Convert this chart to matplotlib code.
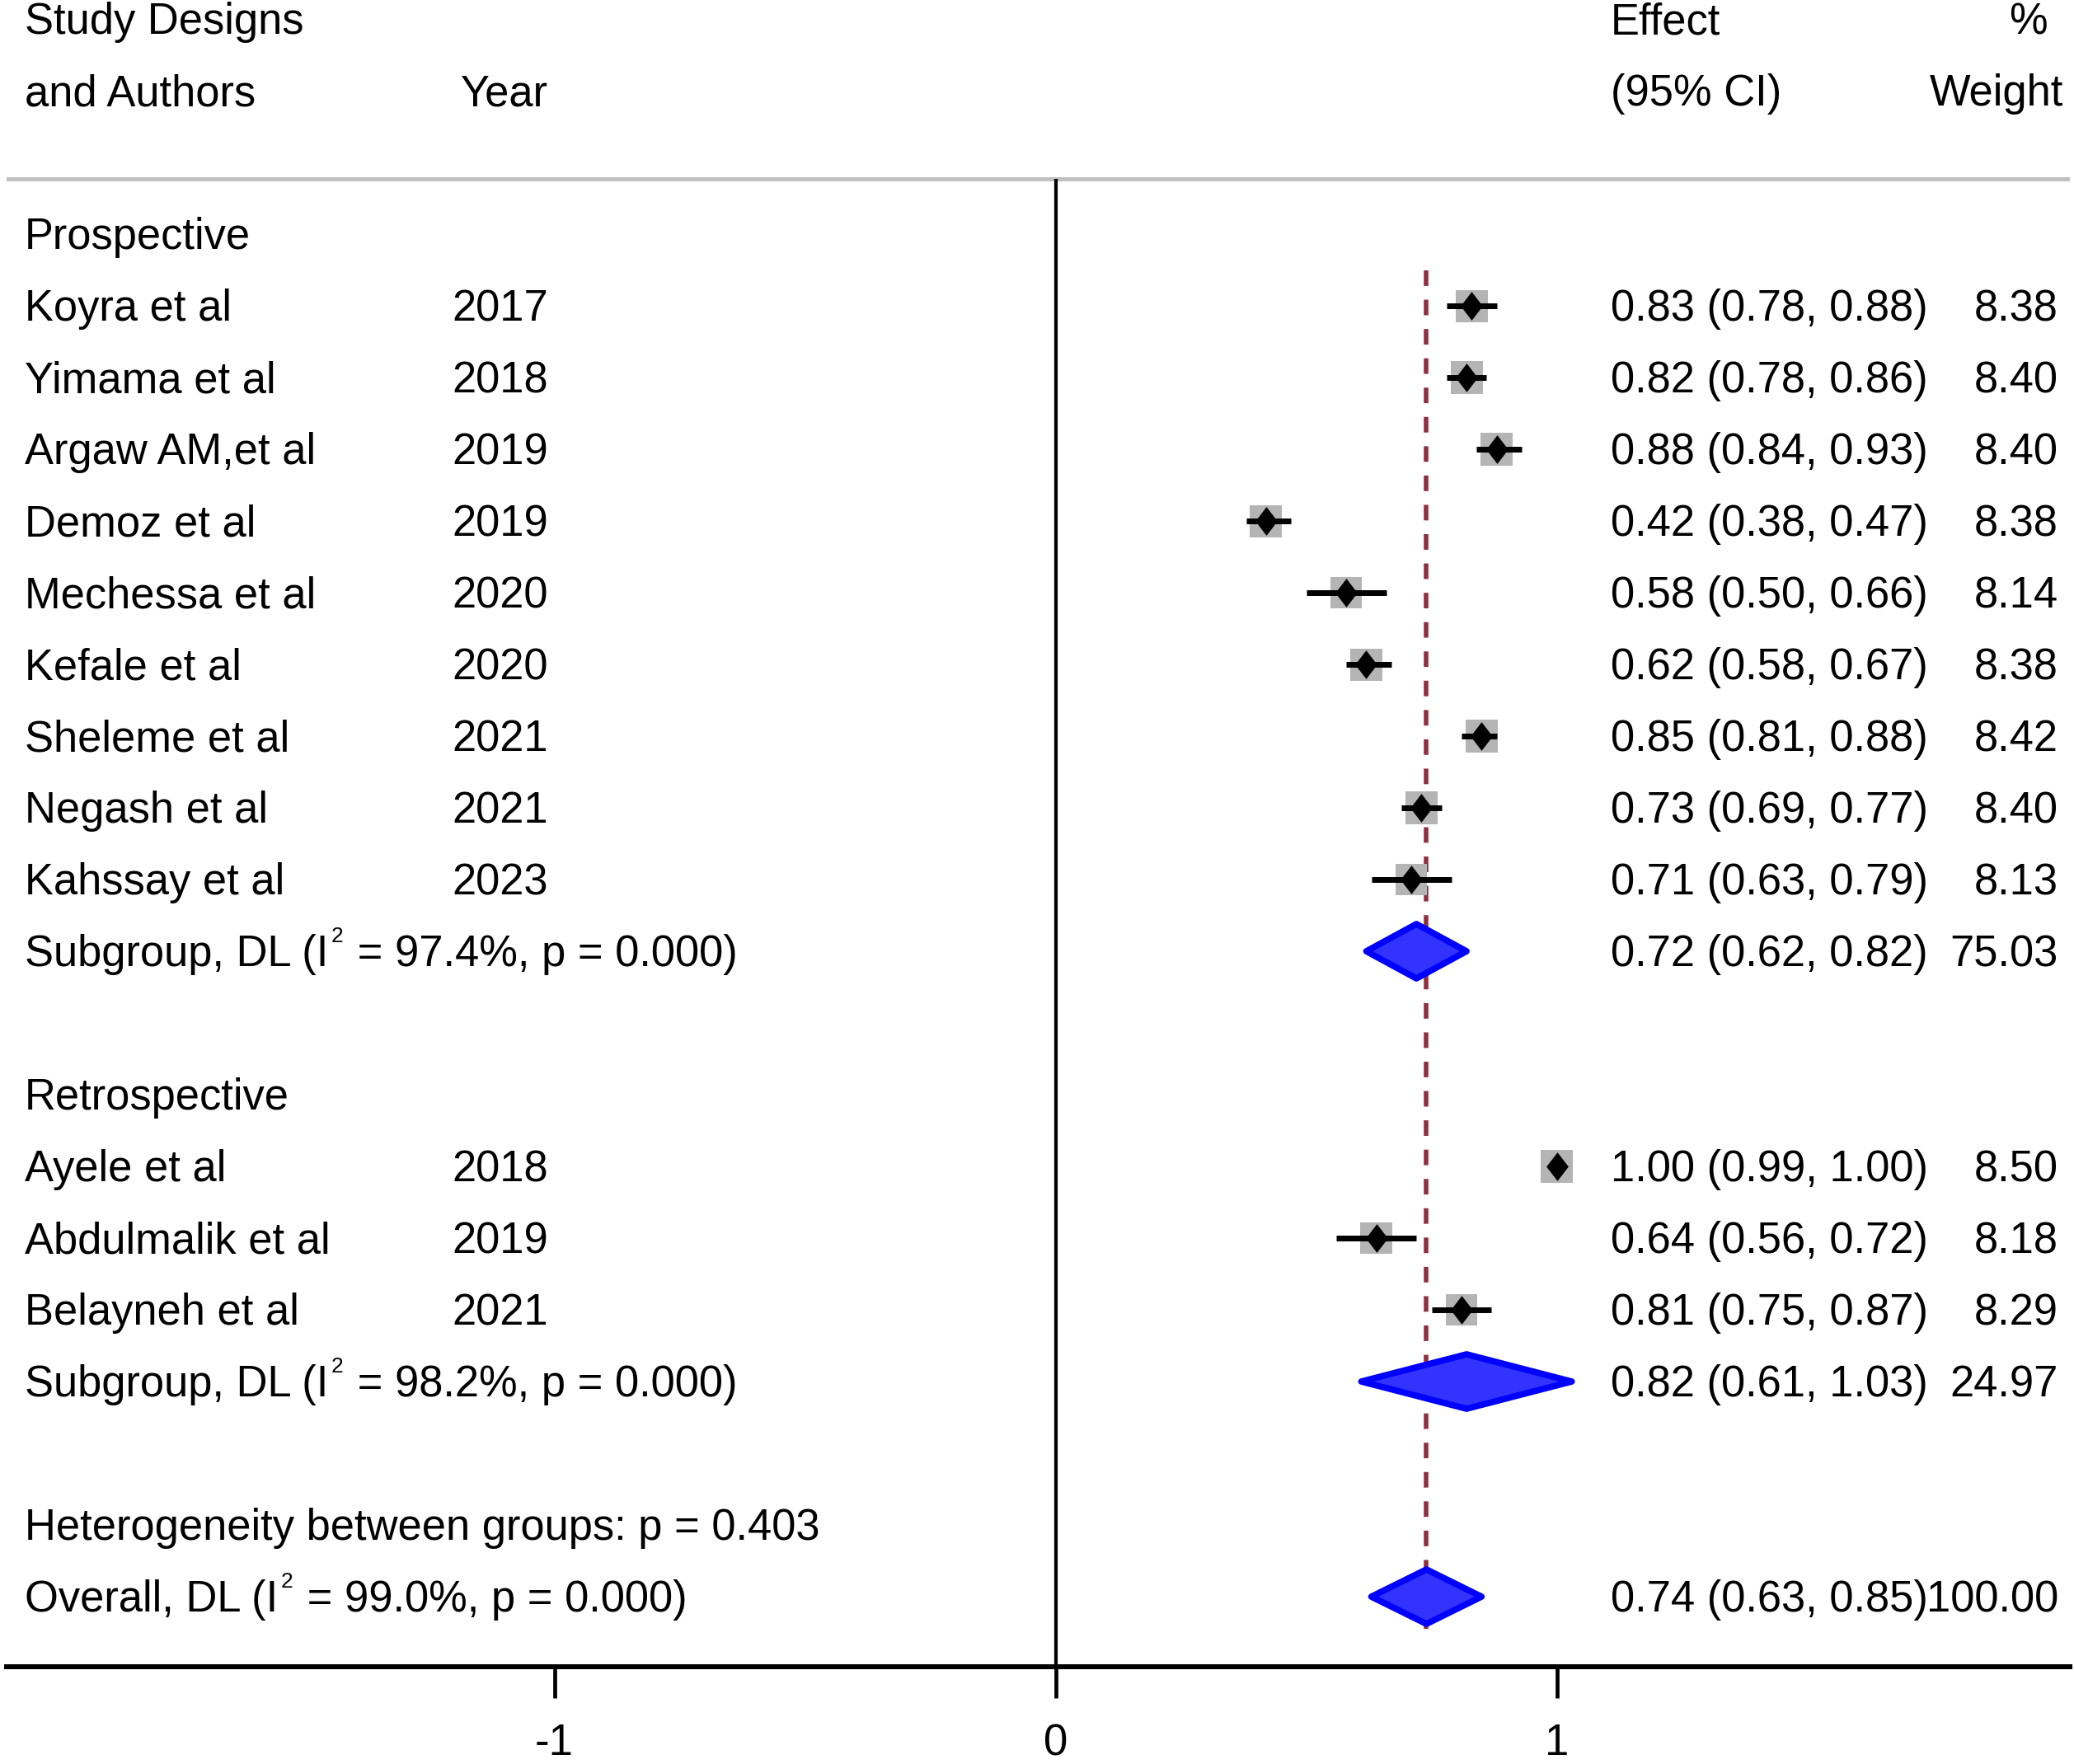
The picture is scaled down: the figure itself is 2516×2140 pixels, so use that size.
import numpy as np
import matplotlib
matplotlib.use("Agg")
import matplotlib.pyplot as plt
from matplotlib.path import Path
from matplotlib.patches import Polygon
import matplotlib.transforms as mtransforms

plt.rcParams['font.family'] = ['Liberation Sans', 'DejaVu Sans']

# prospective studies
pro_names = ["Koyra et al", "Yimama et al", "Argaw AM,et al", "Demoz et al", "Mechessa et al",
             "Kefale et al", "Sheleme et al", "Negash et al", "Kahssay et al"]
pro_years = [2017, 2018, 2019, 2019, 2020, 2020, 2021, 2021, 2023]
pro_es = [0.83, 0.82, 0.88, 0.42, 0.58, 0.62, 0.85, 0.73, 0.71]
pro_lo = [0.78, 0.78, 0.84, 0.38, 0.50, 0.58, 0.81, 0.69, 0.63]
pro_hi = [0.88, 0.86, 0.93, 0.47, 0.66, 0.67, 0.88, 0.77, 0.79]
pro_w = [8.38, 8.40, 8.40, 8.38, 8.14, 8.38, 8.42, 8.40, 8.13]

# retrospective studies
ret_names = ["Ayele et al", "Abdulmalik et al", "Belayneh et al"]
ret_years = [2018, 2019, 2021]
ret_es = [1.00, 0.64, 0.81]
ret_lo = [0.99, 0.56, 0.75]
ret_hi = [1.00, 0.72, 0.87]
ret_w = [8.50, 8.18, 8.29]

# pooled estimates: prospective, retrospective, overall
pool_es = [0.72, 0.82, 0.74]
pool_lo = [0.62, 0.61, 0.63]
pool_hi = [0.82, 1.03, 0.85]
pool_w = [75.03, 24.97, 100.00]
pool_i2 = [97.4, 98.2, 99.0]
pool_p = [0.000, 0.000, 0.000]
het_between_p = 0.403

xticks = [-1, 0, 1]

# row layout
pro_rows = list(range(1, 10))
ret_rows = list(range(13, 16))
pool_rows = [10, 16, 19]

FS = 37.8
W, H = 2516, 2140
fig = plt.figure(figsize=(W / 100, H / 100), dpi=100)
row0_px, step_px = 284.0, 87.0
top_r, bot_r = -row0_px / step_px, 19.98
ax_h = (bot_r - top_r) * step_px / H
x0_px, unit_px = 1280.5, 608.0
xl, xr = (8 - x0_px) / unit_px, (2511 - x0_px) / unit_px
ax = fig.add_axes([8 / W, 1 - ax_h, (2511 - 8) / W, ax_h])
ax.set_xlim(xl, xr)
ax.set_ylim(bot_r, top_r)
for s in ['top', 'left', 'right']:
    ax.spines[s].set_visible(False)
ax.spines['bottom'].set_linewidth(4.3)
ax.set_yticks([])
ax.set_xticks(xticks)
ax.set_xticklabels([str(t) for t in xticks])
ax.tick_params(axis='x', direction='out', length=27, width=3.4, labelsize=38, pad=22)

# header rule and null line
ax.axhline(-0.766, color='#c0c0c0', lw=3.6, zorder=1)
ax.plot([0, 0], [-0.766, bot_r], color='black', lw=3, zorder=1, solid_capstyle='butt')
ax.plot([pool_es[2], pool_es[2]], [0.5, 19.45], color='#8f2f3f', lw=4,
        linestyle=(0, (3.4, 3.0)), zorder=1.5)

diamond = Path([(0, 1), (0.77, 0), (0, -1), (-0.77, 0), (0, 1)],
               [Path.MOVETO, Path.LINETO, Path.LINETO, Path.LINETO, Path.CLOSEPOLY])

all_es = pro_es + ret_es
all_lo = pro_lo + ret_lo
all_hi = pro_hi + ret_hi
all_w = pro_w + ret_w
all_rows = pro_rows + ret_rows

side_pt = [39 * 0.72 * np.sqrt(w / 8.38) for w in all_w]
ax.scatter(all_es, all_rows, s=[sp ** 2 for sp in side_pt], marker='s',
           color='#b4b4b4', linewidths=0, zorder=2)
ax.hlines(all_rows, all_lo, all_hi, color='black', lw=5, zorder=3)
ax.plot(all_es, all_rows, linestyle='none', marker=diamond, ms=25,
        color='black', markeredgewidth=0, zorder=4)

for es, lo, hi, r in zip(pool_es, pool_lo, pool_hi, pool_rows):
    hh = 0.38
    poly = Polygon([(lo, r), (es, r - hh), (hi, r), (es, r + hh)], closed=True,
                   facecolor='#3333ff', edgecolor='#0000ff', lw=5.5,
                   joinstyle='round', zorder=3)
    ax.add_patch(poly)

# text columns
tr = mtransforms.blended_transform_factory(fig.transFigure, ax.transData)
col_name = 30 / W
col_year = 665 / W
col_eff = 1954 / W
col_wt = 2497 / W
bl = 0.212


def put(x, r, s, ha='left'):
    return ax.text(x, r + bl, s, transform=tr, ha=ha, va='baseline', fontsize=FS)


put(col_name, -3, "Study Designs")
put(col_name, -2, "and Authors")
put(col_year, -2, "Year", ha='right')
put(col_eff, -3, "Effect")
put(col_eff, -2, "(95% CI)")
put(2484 / W, -3, "%", ha='right')
put(2503 / W, -2, "Weight", ha='right')

put(col_name, 0, "Prospective")
put(col_name, 12, "Retrospective")

names = pro_names + ret_names
years = pro_years + ret_years
for n, y, es, lo, hi, w, r in zip(names, years, all_es, all_lo, all_hi, all_w, all_rows):
    put(col_name, r, n)
    put(col_year, r, str(y), ha='right')
    put(col_eff, r, f"{es:.2f} ({lo:.2f}, {hi:.2f})")
    put(col_wt, r, f"{w:.2f}", ha='right')

labels = ["Subgroup, DL (I", "Subgroup, DL (I", "Overall, DL (I"]
for lab, i2, p, es, lo, hi, w, r in zip(labels, pool_i2, pool_p, pool_es, pool_lo,
                                         pool_hi, pool_w, pool_rows):
    t1 = put(col_name, r, lab)
    t2 = ax.annotate("2", xy=(1, r - 0.13), xycoords=(t1, 'data'),
                     xytext=(2.5, 0), textcoords='offset points',
                     ha='left', va='baseline', fontsize=19)
    ax.annotate(f" = {i2:.1f}%, p = {p:.3f})", xy=(1, r + bl), xycoords=(t2, 'data'),
                xytext=(2, 0), textcoords='offset points',
                ha='left', va='baseline', fontsize=FS)
    put(col_eff, r, f"{es:.2f} ({lo:.2f}, {hi:.2f})")
    put(col_wt, r, f"{w:.2f}", ha='right')

put(col_name, 18, f"Heterogeneity between groups: p = {het_between_p:.3f}")

fig.savefig("out.png", dpi=100)
